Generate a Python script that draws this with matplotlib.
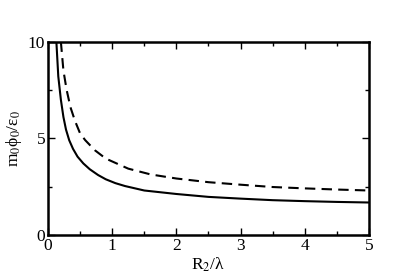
import matplotlib

matplotlib.use("Agg")
import matplotlib.pyplot as plt  # noqa: E402
from matplotlib.ticker import MultipleLocator  # noqa: E402

# 実線（下側の曲線）
x_solid = [0.13, 0.16, 0.2, 0.24, 0.28, 0.33, 0.39, 0.46, 0.55, 0.65, 0.78, 0.9,
           1.05, 1.2, 1.5, 2.0, 2.5, 3.0, 3.5, 4.0, 4.5, 5.0]
y_solid = [10.0, 8.2, 7.0, 6.1, 5.45, 4.9, 4.45, 4.05, 3.7, 3.4, 3.1, 2.88,
           2.68, 2.53, 2.3, 2.12, 1.97, 1.88, 1.8, 1.75, 1.71, 1.68]

# 破線（上側の曲線）
x_dash = [0.2, 0.24, 0.29, 0.35, 0.42, 0.5, 0.58, 0.73, 0.9, 1.25, 1.6,
          2.0, 2.5, 3.0, 3.5, 4.0, 4.5, 5.0]
y_dash = [10.0, 8.5, 7.5, 6.6, 5.9, 5.25, 4.9, 4.38, 3.95, 3.43, 3.13,
          2.92, 2.73, 2.6, 2.48, 2.41, 2.35, 2.3]

plt.rcParams["font.family"] = ["Liberation Serif", "DejaVu Serif"]
plt.rcParams["mathtext.fontset"] = "stix"

fig = plt.figure(figsize=(4.15, 2.77), dpi=100)
ax = fig.add_axes([0.1157, 0.1516, 0.7733, 0.6985])

ax.plot(x_solid, y_solid, color="black", lw=1.5)
ax.plot(x_dash, y_dash, color="black", lw=1.5, ls=(0, (5, 3)))

ax.set_xlim(0, 5)
ax.set_ylim(0, 10)
ax.xaxis.set_major_locator(MultipleLocator(1))
ax.xaxis.set_minor_locator(MultipleLocator(0.5))
ax.yaxis.set_major_locator(MultipleLocator(5))
ax.yaxis.set_minor_locator(MultipleLocator(2.5))
ax.tick_params(which="both", direction="in", top=True, right=True,
               labelsize=12.5, width=1, pad=2)
ax.tick_params(which="major", length=5)
ax.tick_params(which="minor", length=3)
for s in ax.spines.values():
    s.set_linewidth(1.8)

ax.set_xlabel("R$_2$/λ", fontsize=12.5, labelpad=1)
ax.set_ylabel("m$_0$ϕ$_0$/ε$_0$", fontsize=12.5, labelpad=3)

fig.savefig("out.png", dpi=100)
